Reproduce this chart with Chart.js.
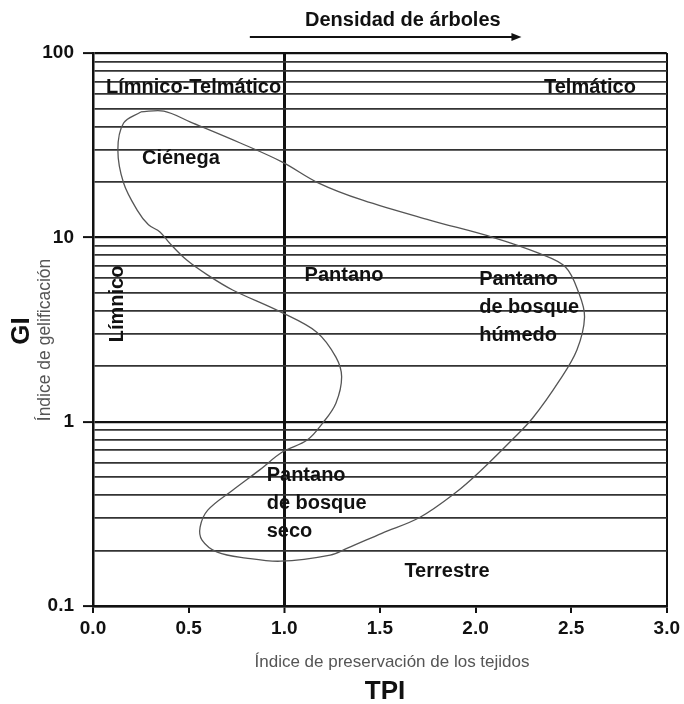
<!DOCTYPE html>
<html>
<head>
<meta charset="utf-8">
<script src="https://cdn.jsdelivr.net/npm/chart.js@4"></script>
<style>
  html, body { margin: 0; padding: 0; background: #fff; }
  #wrap { width: 684px; height: 704px; }
</style>
</head>
<body>
<div id="wrap"><canvas id="c" width="684" height="704"></canvas></div>
<script>
// Outline of the facies field (TPI on x, GI on log y), traced clockwise from the top
const curveTPI = [0.25, 0.37, 0.51, 0.77, 0.99, 1.18, 1.41, 1.76, 2.09, 2.33, 2.47, 2.54, 2.57, 2.53, 2.44,
                  2.30, 2.19, 2.02, 1.90, 1.71, 1.51, 1.33, 1.24, 0.98, 0.80, 0.65, 0.57, 0.56, 0.60, 0.73,
                  0.87, 0.99, 1.12, 1.20, 1.27, 1.30, 1.27, 1.17, 0.98, 0.73, 0.60, 0.49, 0.40, 0.35, 0.29,
                  0.23, 0.16, 0.13, 0.16, 0.25];
const curveGI  = [47.9, 48.4, 42.2, 32.5, 25.6, 19.7, 15.9, 12.4, 10.0, 8.2, 6.9, 4.99, 3.70, 2.45, 1.68,
                  1.05, 0.795, 0.533, 0.415, 0.303, 0.248, 0.206, 0.189, 0.175, 0.182, 0.196, 0.228, 0.268, 0.331, 0.425,
                  0.546, 0.684, 0.795, 0.98, 1.26, 1.75, 2.24, 3.06, 3.94, 5.18, 6.24, 7.53, 9.31, 10.7, 11.7,
                  14.1, 19.7, 29.8, 41.7, 47.9];

// Axis ticks
const tpiTicks = [0, 0.5, 1, 1.5, 2, 2.5, 3];
const giGridValues = [0.1, 0.2, 0.3, 0.4, 0.5, 0.6, 0.7, 0.8, 0.9,
                      1, 2, 3, 4, 5, 6, 7, 8, 9,
                      10, 20, 30, 40, 50, 60, 70, 80, 90, 100];
const giTickLabels = [0.1, 1, 10, 100];

// Facies names
const regionNames = ['Límnico-Telmático', 'Telmático', 'Ciénega', 'Pantano',
                     'Pantano\nde bosque\nhúmedo', 'Pantano\nde bosque\nseco', 'Terrestre', 'Límnico'];
const regionAnchors = [
  { tpi: 0.068, gi: 64.6 },
  { tpi: 2.358, gi: 64.6 },
  { tpi: 0.256, gi: 26.9 },
  { tpi: 1.106, gi: 6.24 },
  { tpi: 2.019, gi: 5.87 },
  { tpi: 0.908, gi: 0.513 },
  { tpi: 1.628, gi: 0.1545 },
  { tpi: 0.130, gi: 4.35, vertical: true }
];

const FONT = '"Liberation Sans", Arial, Helvetica, sans-serif';

const labelsPlugin = {
  id: 'faciesLabels',
  afterDraw(chart) {
    const { ctx, chartArea: a, scales: { x, y } } = chart;
    ctx.save();
    ctx.fillStyle = '#111';

    // Region names
    ctx.font = 'bold 20px ' + FONT;
    regionNames.forEach((name, i) => {
      const p = regionAnchors[i];
      const px = x.getPixelForValue(p.tpi);
      const py = y.getPixelForValue(p.gi);
      if (p.vertical) {
        ctx.save();
        ctx.translate(px, py);
        ctx.rotate(-Math.PI / 2);
        ctx.textAlign = 'center';
        ctx.textBaseline = 'middle';
        ctx.fillText(name, 0, 0);
        ctx.restore();
      } else {
        ctx.textAlign = 'left';
        ctx.textBaseline = 'middle';
        name.split('\n').forEach((line, k) => ctx.fillText(line, px, py + k * 28));
      }
    });

    // Tree density arrow above the plot
    const ax0 = x.getPixelForValue(0.82), ax1 = x.getPixelForValue(2.24);
    const ay = a.top - 16;
    ctx.strokeStyle = '#111';
    ctx.lineWidth = 2;
    ctx.beginPath();
    ctx.moveTo(ax0, ay);
    ctx.lineTo(ax1 - 6, ay);
    ctx.stroke();
    ctx.beginPath();
    ctx.moveTo(ax1, ay);
    ctx.lineTo(ax1 - 10, ay - 4);
    ctx.lineTo(ax1 - 10, ay + 4);
    ctx.closePath();
    ctx.fill();
    ctx.font = 'bold 20px ' + FONT;
    ctx.textAlign = 'center';
    ctx.textBaseline = 'middle';
    ctx.fillText('Densidad de árboles', x.getPixelForValue(1.62), a.top - 33);

    // Axis titles
    ctx.font = '17px ' + FONT;
    ctx.fillStyle = '#555';
    ctx.fillText('Índice de preservación de los tejidos', 392, a.bottom + 56);
    ctx.fillStyle = '#111';
    ctx.font = 'bold 26px ' + FONT;
    ctx.fillText('TPI', 385, a.bottom + 86);

    ctx.save();
    ctx.translate(22, 331);
    ctx.rotate(-Math.PI / 2);
    ctx.fillText('GI', 0, 0);
    ctx.restore();

    ctx.save();
    ctx.translate(45, 340);
    ctx.rotate(-Math.PI / 2);
    ctx.font = '17.5px ' + FONT;
    ctx.fillStyle = '#555';
    ctx.fillText('Índice de gelificación', 0, 0);
    ctx.restore();

    ctx.restore();
  }
};

const curvePoints = curveTPI.map((v, i) => ({ x: v, y: curveGI[i] }));

new Chart(document.getElementById('c'), {
  type: 'line',
  data: {
    datasets: [{
      data: curvePoints,
      borderColor: '#555',
      borderWidth: 1.3,
      pointRadius: 0,
      tension: 0.35,
      fill: false
    }]
  },
  options: {
    responsive: false,
    animation: false,
    events: [],
    layout: { padding: { top: 53, right: 16, left: 0, bottom: 0 } },
    plugins: { legend: { display: false }, tooltip: { enabled: false } },
    scales: {
      x: {
        type: 'linear',
        min: 0,
        max: 3,
        afterBuildTicks: s => { s.ticks = tpiTicks.map(v => ({ value: v })); },
        afterFit: s => { s.height = 98; },
        border: { color: '#111', width: 2.5 },
        grid: {
          color: c => (c.tick.value === 1 || c.tick.value === 3) ? '#111' : 'rgba(0,0,0,0)',
          lineWidth: c => c.tick.value === 1 ? 3 : 2,
          tickColor: '#111',
          tickWidth: 2,
          tickLength: 7
        },
        ticks: {
          autoSkip: false,
          maxRotation: 0,
          padding: 4,
          color: '#111',
          font: { family: FONT, size: 19, weight: 'bold' },
          callback: v => Number(v).toFixed(1)
        }
      },
      y: {
        type: 'logarithmic',
        min: 0.1,
        max: 100,
        afterBuildTicks: s => { s.ticks = giGridValues.map(v => ({ value: v })); },
        afterFit: s => { s.width = 93; },
        border: { color: '#111', width: 2.5 },
        grid: {
          color: c => giTickLabels.includes(c.tick.value) ? '#111' : '#333',
          lineWidth: c => giTickLabels.includes(c.tick.value) ? 2.2 : 1.7,
          tickColor: c => giTickLabels.includes(c.tick.value) ? '#111' : 'rgba(0,0,0,0)',
          tickWidth: 2,
          tickLength: 10
        },
        ticks: {
          autoSkip: false,
          padding: 9,
          color: '#111',
          font: { family: FONT, size: 19, weight: 'bold' },
          callback: v => giTickLabels.includes(v) ? String(v) : ''
        }
      }
    }
  },
  plugins: [labelsPlugin]
});
</script>
</body>
</html>
